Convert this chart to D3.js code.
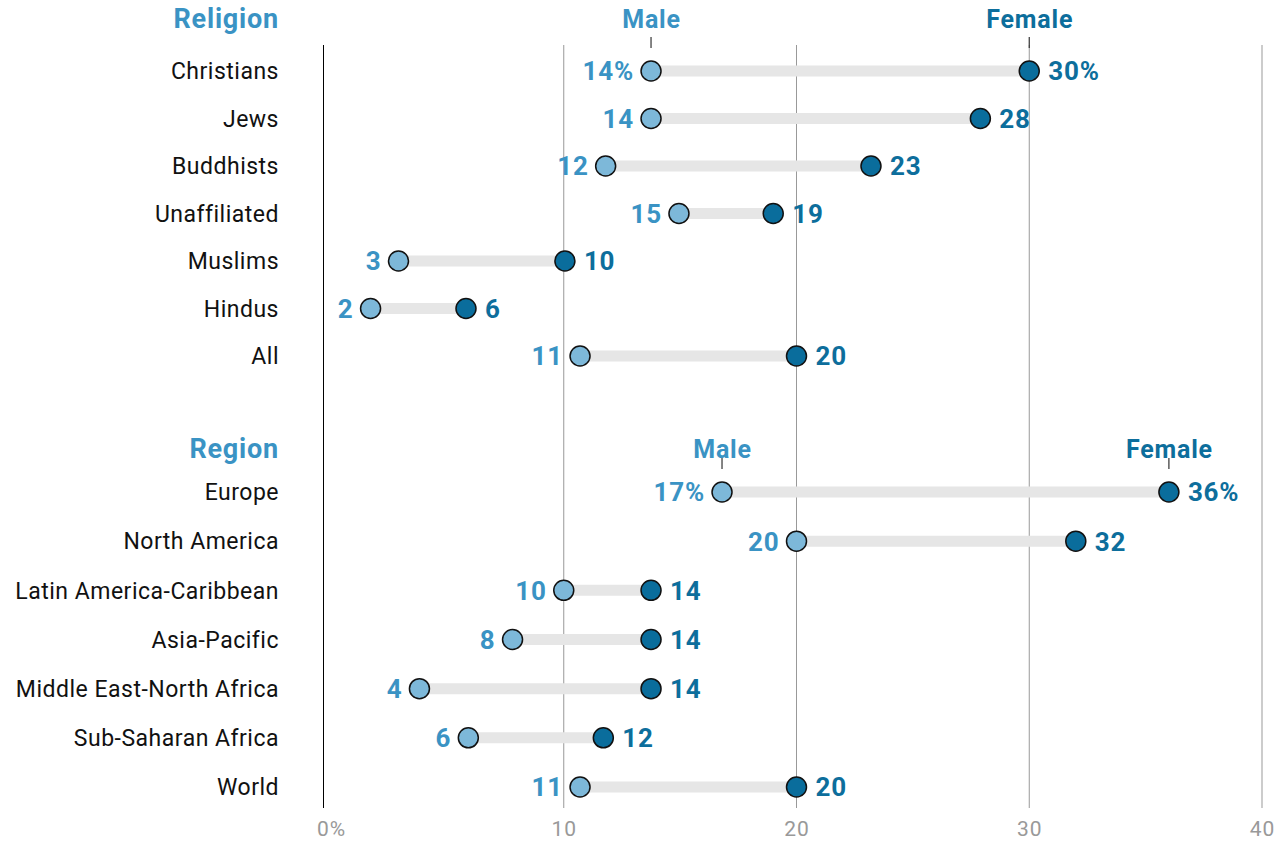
<!DOCTYPE html>
<html>
<head>
<meta charset="utf-8">
<script src="https://cdn.jsdelivr.net/npm/d3@7"></script>
<style>
  body { margin: 0; background: #fff; }
  text { font-family: Roboto, "Liberation Sans", sans-serif; }
</style>
</head>
<body>
<div id="chart"></div>
<script>
// data (share of adults, %)
const religions = ['Christians', 'Jews', 'Buddhists', 'Unaffiliated', 'Muslims', 'Hindus', 'All'];
const religionMale = [13.75, 13.75, 11.8, 14.95, 2.9, 1.7, 10.7];
const religionFemale = [30.0, 27.9, 23.2, 19.0, 10.05, 5.8, 20.0];

const regions = ['Europe', 'North America', 'Latin America-Caribbean', 'Asia-Pacific',
  'Middle East-North Africa', 'Sub-Saharan Africa', 'World'];
const regionMale = [16.8, 20.0, 10.0, 7.8, 3.8, 5.9, 10.7];
const regionFemale = [36.0, 32.0, 13.75, 13.75, 13.75, 11.7, 20.0];

const xTicks = [0, 10, 20, 30, 40];
const xTickLabels = ['0%', '10', '20', '30', '40'];

const maleFill = '#7db8d9', maleText = '#3a93c4';
const femaleFill = '#0a6d9c', femaleText = '#0d6e9c';

var width = 1287, height = 843;

var svg = d3.select('#chart').append('svg')
  .attr('width', width)
  .attr('height', height);

var x = d3.scaleLinear().domain([0, 40]).range([331, 1262]);

var groups = [
  {title: 'Religion', names: religions, male: religionMale, female: religionFemale,
   y: d3.scalePoint().domain(religions).range([71, 356]), headY: 28},
  {title: 'Region', names: regions, male: regionMale, female: regionFemale,
   y: d3.scalePoint().domain(regions).range([492, 787]), headY: 458}
];

// grid
var grid = svg.append('g');
grid.selectAll('line')
  .data(xTicks.slice(1))
  .enter().append('line')
  .attr('x1', d => x(d)).attr('x2', d => x(d))
  .attr('y1', 45).attr('y2', 808)
  .attr('stroke', '#999').attr('stroke-width', 1);
grid.append('line')
  .attr('x1', 323.5).attr('x2', 323.5)
  .attr('y1', 45).attr('y2', 808)
  .attr('stroke', '#000').attr('stroke-width', 1);

svg.append('g').selectAll('text')
  .data(xTicks)
  .enter().append('text')
  .attr('x', d => x(d) + 0.5)
  .attr('y', 836)
  .attr('text-anchor', 'middle')
  .attr('fill', '#999')
  .style('font-size', '21px').style('letter-spacing', '1px')
  .text((d, i) => xTickLabels[i]);

groups.forEach(function(g) {
  var rows = g.names.map((n, i) => ({name: n, m: g.male[i], f: g.female[i], i: i}));
  var G = svg.append('g');

  G.append('text')
    .attr('x', 279).attr('y', g.headY)
    .attr('text-anchor', 'end')
    .attr('fill', maleText)
    .style('font-size', '27px').style('font-weight', 'bold').style('letter-spacing', '0.8px')
    .text(g.title);

  // Male / Female headers over first row
  var first = rows[0];
  [[first.m, 'Male', maleText], [first.f, 'Female', femaleText]].forEach(function(h) {
    G.append('text')
      .attr('x', x(h[0]) + 0.5).attr('y', g.headY)
      .attr('text-anchor', 'middle')
      .attr('fill', h[2])
      .style('font-size', '25px').style('font-weight', 'bold').style('letter-spacing', '0.8px')
      .text(h[1]);
    G.append('line')
      .attr('x1', x(h[0])).attr('x2', x(h[0]))
      .attr('y1', g.y(first.name) - 34).attr('y2', g.y(first.name) - 23)
      .attr('stroke', '#333').attr('stroke-width', 1.2);
  });

  G.selectAll('text.cat')
    .data(rows)
    .enter().append('text')
    .attr('class', 'cat')
    .attr('x', 279).attr('y', d => g.y(d.name))
    .attr('dy', '0.36em')
    .attr('text-anchor', 'end')
    .attr('fill', '#111')
    .style('font-size', '23px').style('letter-spacing', '0.5px')
    .text(d => d.name);

  G.selectAll('line.bar')
    .data(rows)
    .enter().append('line')
    .attr('class', 'bar')
    .attr('x1', d => x(d.m)).attr('x2', d => x(d.f))
    .attr('y1', d => g.y(d.name)).attr('y2', d => g.y(d.name))
    .attr('stroke', '#e6e6e6').attr('stroke-width', 11);

  G.selectAll('circle.male')
    .data(rows)
    .enter().append('circle')
    .attr('class', 'male')
    .attr('cx', d => x(d.m)).attr('cy', d => g.y(d.name))
    .attr('r', 10)
    .attr('fill', maleFill).attr('stroke', '#111').attr('stroke-width', 1.5);

  G.selectAll('circle.female')
    .data(rows)
    .enter().append('circle')
    .attr('class', 'female')
    .attr('cx', d => x(d.f)).attr('cy', d => g.y(d.name))
    .attr('r', 10)
    .attr('fill', femaleFill).attr('stroke', '#111').attr('stroke-width', 1.5);

  G.selectAll('text.mlab')
    .data(rows)
    .enter().append('text')
    .attr('class', 'mlab')
    .attr('x', d => x(d.m) - 17).attr('y', d => g.y(d.name))
    .attr('dy', '0.36em')
    .attr('text-anchor', 'end')
    .attr('fill', maleText)
    .style('font-size', '26px').style('font-weight', 'bold').style('letter-spacing', '0.8px')
    .text(d => Math.round(d.m) + (d.i === 0 ? '%' : ''));

  G.selectAll('text.flab')
    .data(rows)
    .enter().append('text')
    .attr('class', 'flab')
    .attr('x', d => x(d.f) + 19).attr('y', d => g.y(d.name))
    .attr('dy', '0.36em')
    .attr('fill', femaleText)
    .style('font-size', '26px').style('font-weight', 'bold').style('letter-spacing', '0.8px')
    .text(d => Math.round(d.f) + (d.i === 0 ? '%' : ''));
});
</script>
</body>
</html>
